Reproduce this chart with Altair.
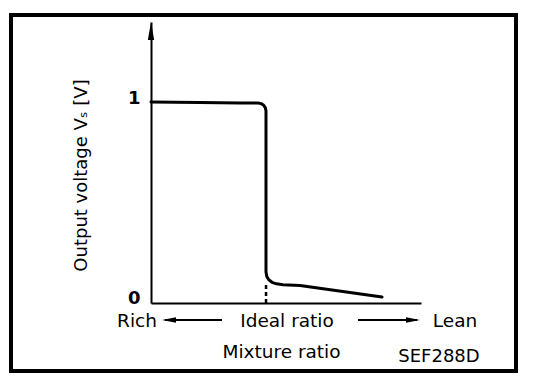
import altair as alt
import pandas as pd

# ---- data ----
# Mixture ratio on an arbitrary 0-100 axis (ideal ratio at ~42.6); output voltage in V
curve_x = [0, 18.1, 33.0, 39.63, 40.78, 41.74, 42.37, 42.59, 42.59, 42.89,
           43.63, 44.81, 46.48, 48.89, 55.19, 85.56]
curve_y = [1.005, 1.0025, 1.0, 1.0, 0.997, 0.9885, 0.9755, 0.96, 0.155, 0.1325,
           0.116, 0.1035, 0.096, 0.0915, 0.0875, 0.03]
ideal_x = [42.6]
ideal_y_top = [0.095]
y_ticks = [0, 1]
direction_labels = ["Rich", "Ideal ratio", "Lean"]
x_title = "Mixture ratio"
y_title = "Output voltage Vₛ [V]"
code_label = "SEF288D"

FONT = "DejaVu Sans"

curve = pd.DataFrame({"x": curve_x, "y": curve_y, "i": list(range(len(curve_x)))})
ideal = pd.DataFrame({"x": ideal_x, "y": [0.0], "y2": ideal_y_top})
one = pd.DataFrame({"k": [0]})

x_enc = alt.X(
    "x:Q",
    scale=alt.Scale(domain=[0, 100], nice=False, zero=False),
    axis=alt.Axis(
        title=x_title, labels=False, ticks=False, tickSize=0, grid=False,
        domainColor="black", domainWidth=2,
        titleFont=FONT, titleFontSize=18.5, titleFontWeight="normal",
        titleColor="black", titleX=130, titleY=54,
        titleBaseline="alphabetic", titleAlign="center",
    ),
)
y_enc = alt.Y(
    "y:Q",
    scale=alt.Scale(domain=[0, 1.405], nice=False, zero=False),
    axis=alt.Axis(
        title=y_title, values=y_ticks, format="d", ticks=False, tickSize=0,
        grid=False, domainColor="black", domainWidth=2,
        labelFont=FONT, labelFontWeight="bold", labelFontSize=18,
        labelColor="black", labelPadding=11, labelBaseline="alphabetic",
        titleFont=FONT, titleFontSize=18, titleFontWeight="normal",
        titleColor="black", titleX=-70, titleY=153, titleAngle=270,
        titleBaseline="middle", titleAlign="center",
    ),
)

line = alt.Chart(curve).mark_line(
    color="black", strokeWidth=3, strokeJoin="round", strokeCap="round"
).encode(x=x_enc, y=y_enc, order="i:Q")

dash = alt.Chart(ideal).mark_rule(
    color="black", strokeWidth=2.5, strokeDash=[4, 3]
).encode(x="x:Q", y="y:Q", y2="y2:Q")

y_arrow = alt.Chart(one).mark_point(
    shape="M0,-1L0.35,1L-0.35,1Z", filled=True, size=324, color="black", opacity=1
).encode(x=alt.value(0), y=alt.value(9))

frame = alt.Chart(one).mark_rect(
    fillOpacity=0, stroke="black", strokeWidth=4
).encode(x=alt.value(-140), x2=alt.value(365), y=alt.value(-7), y2=alt.value(349))

def label(txt, px, py, size=18.5):
    return alt.Chart(one).mark_text(
        text=txt, font=FONT, fontSize=size, color="black",
        align="center", baseline="alphabetic"
    ).encode(x=alt.value(px), y=alt.value(py))

rich = label(direction_labels[0], -14, 305)
ideal_lbl = label(direction_labels[1], 136, 305)
lean = label(direction_labels[2], 304, 305)
code = label(code_label, 288, 340, 18)

left_shaft = alt.Chart(one).mark_rule(color="black", strokeWidth=2).encode(
    x=alt.value(14), x2=alt.value(71), y=alt.value(298))
left_head = alt.Chart(one).mark_point(
    shape="M-1,0L1,-0.4L1,0.4Z", filled=True, size=196, color="black", opacity=1
).encode(x=alt.value(18), y=alt.value(298))
right_shaft = alt.Chart(one).mark_rule(color="black", strokeWidth=2).encode(
    x=alt.value(207), x2=alt.value(266), y=alt.value(298))
right_head = alt.Chart(one).mark_point(
    shape="M1,0L-1,-0.4L-1,0.4Z", filled=True, size=196, color="black", opacity=1
).encode(x=alt.value(262), y=alt.value(298))

chart = alt.layer(
    frame, line, dash, y_arrow, rich, ideal_lbl, lean, code,
    left_shaft, left_head, right_shaft, right_head
).properties(
    width=270, height=281,
    autosize=alt.AutoSizeParams(type="none"),
    padding={"left": 143, "top": 14, "right": 110, "bottom": 80},
    background="white",
).configure_view(strokeWidth=0)

chart.save("out.html", embed_options={"renderer": "svg", "actions": False})
